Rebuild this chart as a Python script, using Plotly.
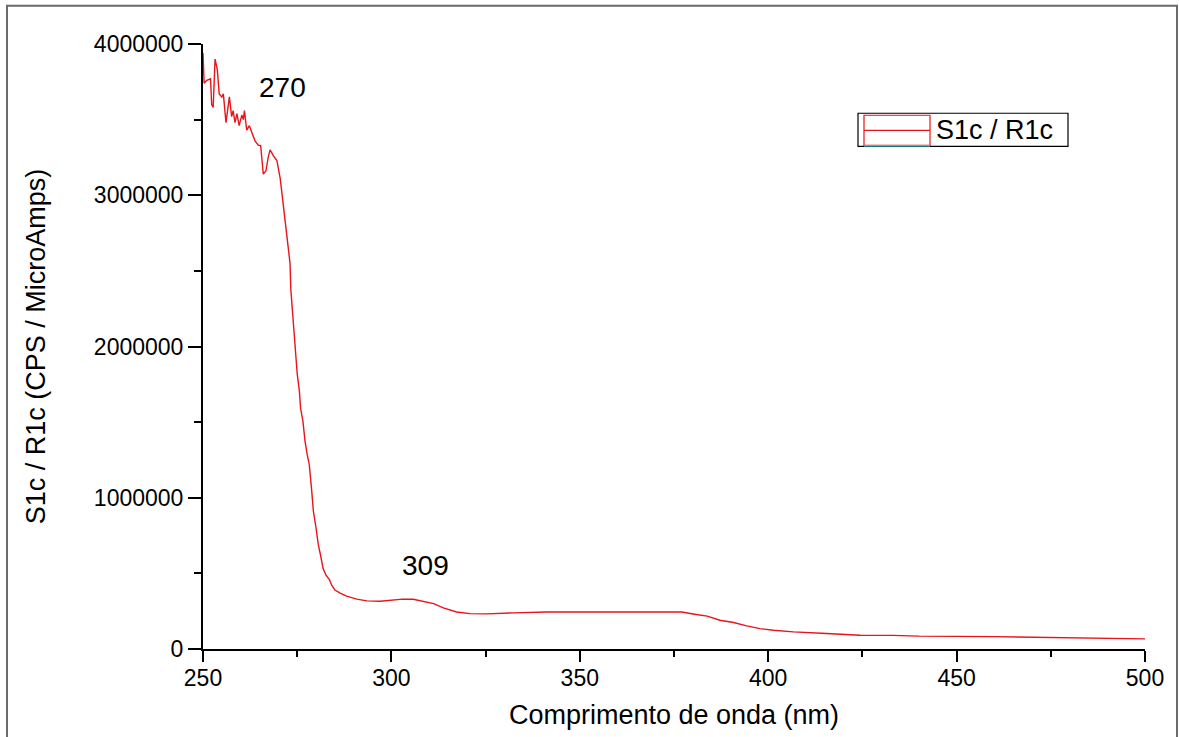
import plotly.graph_objects as go

# ---- data ----
wavelength_nm = [250.0, 250.3, 251.0, 252.0, 252.3, 252.7, 253.2, 253.8, 254.3, 255.0,
                 255.4, 256.1, 257.0, 257.6, 258.0, 258.5, 259.0, 259.6, 260.3, 260.7,
                 261.0, 261.6, 262.3, 262.9, 263.8, 264.7, 265.3, 266.0, 266.7, 267.3,
                 267.8, 268.7, 269.6, 270.5, 270.9, 271.3, 272.0, 272.6, 273.1, 273.3,
                 273.8, 274.2, 274.5, 275.0, 275.6, 275.9, 276.5, 277.1, 277.7, 278.2,
                 278.8, 279.3, 280.0, 280.6, 281.2, 281.9, 282.6, 283.5, 284.2, 285.0,
                 286.4, 288.1, 290.8, 293.5, 297.0, 300.5, 303.0, 305.8, 308.5, 311.2,
                 313.8, 317.3, 320.9, 325.3, 332.4, 341.2, 350.0, 360.0, 377.0, 380.5,
                 383.8, 387.2, 390.8, 394.3, 397.8, 401.4, 406.7, 415.5, 424.4, 433.0,
                 440.0, 460.0, 475.0, 490.0, 500.0]
intensity = [3940000, 3740000, 3760000, 3770000, 3600000, 3580000, 3900000, 3830000, 3670000, 3650000,
             3670000, 3480000, 3650000, 3520000, 3560000, 3480000, 3540000, 3460000, 3530000, 3500000,
             3560000, 3430000, 3460000, 3420000, 3360000, 3330000, 3330000, 3140000, 3160000, 3250000,
             3300000, 3260000, 3230000, 3110000, 3020000, 2920000, 2770000, 2660000, 2550000, 2380000,
             2210000, 2080000, 1950000, 1820000, 1700000, 1590000, 1510000, 1370000, 1280000, 1220000,
             1060000, 910000, 800000, 690000, 620000, 530000, 490000, 460000, 420000, 390000,
             370000, 350000, 330000, 318000, 316000, 327000, 330000, 329000, 316000, 300000,
             272000, 245000, 234000, 232000, 239000, 245000, 245000, 245000, 245000, 230000,
             217000, 190000, 175000, 153000, 135000, 124000, 113000, 102000, 91000, 90000,
             85000, 82000, 77000, 74000, 67000]

series_name = "S1c / R1c"
x_title = "Comprimento de onda (nm)"
y_title = "S1c / R1c (CPS / MicroAmps)"
peak_label_x = [271, 309]
peak_label_y = [3715000, 550000]
peak_label_text = ["270", "309"]

# ---- layout geometry (pixels) ----
W, H = 1179, 737
L, R, T, B = 203, 1145, 44, 647
B_MARGIN = 81  # empirically tuned so that the zero line lands at y=647


def px(x):
    return (x - L) / (R - L)


def py(y):
    return (B - y) / (B - T)


FONT = "Liberation Sans, Arial, sans-serif"
RED = "#e8141a"

fig = go.Figure()
fig.add_trace(go.Scatter(x=wavelength_nm, y=intensity, mode="lines",
                         name=series_name, showlegend=False,
                         line=dict(color=RED, width=1.4)))

for xv, yv, txt in zip(peak_label_x, peak_label_y, peak_label_text):
    fig.add_annotation(x=xv, y=yv, text=txt, showarrow=False,
                       font=dict(family=FONT, size=28, color="#000"),
                       xanchor="center", yanchor="middle")

# hand-drawn legend box (mimics the original's legend symbol)
fig.add_annotation(xref="paper", yref="paper", x=px(934), y=py(130), text=series_name,
                   showarrow=False, xanchor="left", yanchor="middle",
                   font=dict(family=FONT, size=27, color="#000"))

shapes = [
    # outer window frame
    dict(type="rect", xref="paper", yref="paper", x0=px(7), x1=px(1177), y0=py(780), y1=py(6),
         line=dict(color="#6a6a6a", width=2), layer="below"),
    # legend frame
    dict(type="rect", xref="paper", yref="paper", x0=px(858), x1=px(1068), y0=py(146), y1=py(113),
         line=dict(color="#000", width=1.2), layer="above"),
    dict(type="rect", xref="paper", yref="paper", x0=px(864), x1=px(930), y0=py(145), y1=py(115),
         line=dict(color=RED, width=1.2), layer="above"),
    dict(type="line", xref="paper", yref="paper", x0=px(864), x1=px(930), y0=py(130), y1=py(130),
         line=dict(color=RED, width=1.2), layer="above"),
    dict(type="line", xref="paper", yref="paper", x0=px(864), x1=px(930), y0=py(145.5), y1=py(145.5),
         line=dict(color="#22e8f0", width=1.2), layer="above"),
]

fig.update_layout(
    width=W, height=H,
    margin=dict(l=L, r=W - R, t=T, b=B_MARGIN),
    paper_bgcolor="white", plot_bgcolor="white",
    font=dict(family=FONT, color="#000"),
    showlegend=False,
    shapes=shapes,
    xaxis=dict(range=[250, 500], dtick=50, tick0=250, showgrid=False, zeroline=False,
               showline=True, linecolor="#000", linewidth=2, mirror=False,
               ticks="outside", ticklen=11, tickwidth=2, tickcolor="#000",
               ticklabelstandoff=-4,
               minor=dict(dtick=25, ticks="outside", ticklen=6, tickwidth=2, tickcolor="#000"),
               tickfont=dict(family=FONT, size=23, color="#000"),
               title=dict(text=x_title, font=dict(family=FONT, size=27, color="#000"), standoff=16)),
    yaxis=dict(range=[0, 4000000], dtick=1000000, showgrid=False, zeroline=False,
               showline=True, linecolor="#000", linewidth=2, mirror=False,
               ticks="outside", ticklen=13, tickwidth=2, tickcolor="#000", tickformat="d",
               minor=dict(dtick=500000, ticks="outside", ticklen=7, tickwidth=2, tickcolor="#000"),
               tickfont=dict(family=FONT, size=23, color="#000"),
               title=dict(text=y_title, font=dict(family=FONT, size=27, color="#000"), standoff=40)),
)

fig.write_html("out.html")
